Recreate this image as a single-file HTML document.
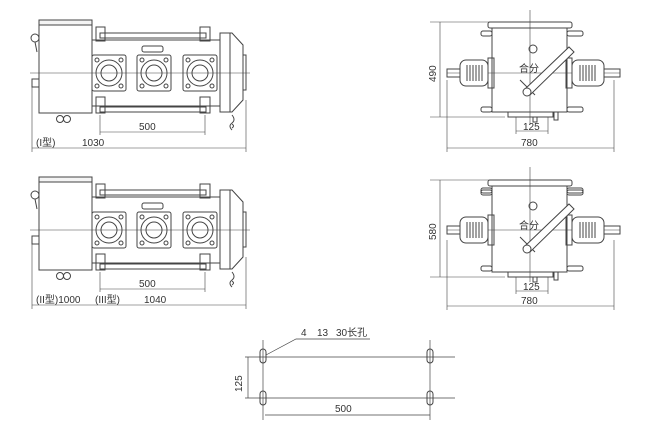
<!DOCTYPE html>
<html><head><meta charset="utf-8"><style>
html,body{margin:0;padding:0;background:#fff;}
svg{display:block;}
text{font-family:"Liberation Sans","Noto Sans CJK SC",sans-serif;font-size:10px;fill:#333;}
</style></head><body>
<svg width="650" height="436" viewBox="0 0 650 436" xmlns="http://www.w3.org/2000/svg">
<defs>
<g id="side" fill="none" stroke="#444" stroke-width="1">
  <rect x="39" y="20" width="53" height="5" fill="#f4f4f4"/>
  <rect x="39" y="25" width="53" height="88"/>
  <circle cx="35" cy="38" r="4"/><line x1="35" y1="42" x2="37" y2="52"/>
  <rect x="32" y="79" width="7" height="8"/>
  <circle cx="60" cy="119" r="3.5"/><circle cx="67" cy="119" r="3.5"/>
  <line x1="92" y1="40" x2="220" y2="40"/><line x1="92" y1="106" x2="220" y2="106"/>
  <rect x="96" y="27" width="9" height="14"/><rect x="200" y="27" width="10" height="14"/>
  <rect x="100" y="33" width="106" height="5"/>
  <rect x="96" y="97" width="9" height="16"/><rect x="200" y="97" width="10" height="16"/>
  <rect x="100" y="107" width="106" height="5"/>
  <rect x="142" y="46" width="21" height="6" rx="2"/>
  <g id="fl"><rect x="92" y="55" width="34" height="36" rx="2"/><circle cx="109" cy="73" r="13"/><circle cx="109" cy="73" r="8"/>
  <circle cx="97" cy="60" r="2"/><circle cx="121" cy="60" r="2"/><circle cx="97" cy="86" r="2"/><circle cx="121" cy="86" r="2"/></g>
  <use href="#fl" x="45"/><use href="#fl" x="91"/>
  <path d="M220 33 L232 33 L243 45 L243 100 L232 112 L220 112 Z"/>
  <line x1="230" y1="33" x2="230" y2="112"/>
  <rect x="243" y="55" width="3" height="35"/>
  <path d="M232 115 q4 5 0 8 q-4 3 0 7 M232 124 q3 2 0 4"/>
  <line x1="30" y1="73" x2="250" y2="73" stroke-width="0.6"/>
  <line x1="100" y1="115" x2="100" y2="135" stroke-width="0.6"/><line x1="205" y1="115" x2="205" y2="135" stroke-width="0.6"/>
  <line x1="100" y1="132" x2="205" y2="132" stroke-width="0.6"/>
  <line x1="32" y1="85" x2="32" y2="152" stroke-width="0.6"/><line x1="246" y1="100" x2="246" y2="152" stroke-width="0.6"/>
  <line x1="32" y1="148" x2="246" y2="148" stroke-width="0.6"/>
</g>
<g id="front" fill="none" stroke="#444" stroke-width="1">
  <rect x="481" y="31" width="11" height="5" rx="2"/><rect x="567" y="31" width="16" height="5" rx="2"/>
  <line x1="447" y1="73" x2="620" y2="73" stroke-width="0.6"/>
  <line x1="530" y1="10" x2="530" y2="125" stroke-width="0.6"/>
  <rect x="447" y="69" width="15" height="8"/><rect x="604" y="69" width="16" height="8"/>
  <rect x="460" y="60" width="28" height="26" rx="6" fill="#fff"/><rect x="572" y="60" width="32" height="26" rx="6" fill="#fff"/>
  <path d="M467 65v16M470 65v16M473 65v16M476 65v16M479 65v16M482 65v16M580 65v16M583 65v16M586 65v16M589 65v16M592 65v16M595 65v16"/>
  <rect x="488" y="58" width="6" height="30"/><rect x="566" y="58" width="6" height="30"/>
  <line x1="520" y1="80" x2="535" y2="95"/>
  <path d="M524 90 L569 47 L574 52 L530 95 Z" fill="#fff"/><circle cx="527" cy="92" r="4" fill="#fff"/>
  <circle cx="533" cy="49" r="4"/>
</g>
</defs>

<use href="#side"/>
<text x="36" y="146" font-size="9">(I型)</text>
<text x="82" y="146">1030</text>
<text x="139" y="130">500</text>

<use href="#side" y="157"/>
<text x="36" y="303" font-size="9">(II型)1000</text>
<text x="95" y="303" font-size="9">(III型)</text>
<text x="144" y="303">1040</text>
<text x="139" y="287">500</text>

<!-- right top -->
<g fill="none" stroke="#444" stroke-width="1">
  <rect x="488" y="22" width="84" height="6" rx="2"/>
  <rect x="492" y="28" width="75" height="84"/>
  <rect x="481" y="107" width="11" height="5" rx="2"/><rect x="567" y="107" width="16" height="5" rx="2"/>
  <rect x="508" y="112" width="45" height="5"/><rect x="533" y="117" width="4" height="5"/><rect x="554" y="112" width="4" height="8"/>
  <line x1="430" y1="22" x2="490" y2="22" stroke-width="0.6"/><line x1="430" y1="117" x2="505" y2="117" stroke-width="0.6"/>
  <line x1="440" y1="22" x2="440" y2="117" stroke-width="0.6"/>
  <line x1="516" y1="117" x2="516" y2="134" stroke-width="0.6"/><line x1="548" y1="117" x2="548" y2="134" stroke-width="0.6"/>
  <line x1="516" y1="131" x2="548" y2="131" stroke-width="0.6"/>
  <line x1="447" y1="80" x2="447" y2="152" stroke-width="0.6"/><line x1="614" y1="80" x2="614" y2="152" stroke-width="0.6"/>
  <line x1="447" y1="148" x2="614" y2="148" stroke-width="0.6"/>
</g>
<use href="#front"/>
<text x="519" y="72" font-size="9">合分</text>
<text transform="translate(436,82) rotate(-90)">490</text>
<text x="523" y="130">125</text>
<text x="521" y="146">780</text>

<!-- right bottom -->
<g fill="none" stroke="#444" stroke-width="1">
  <rect x="488" y="180" width="84" height="6" rx="2"/>
  <rect x="492" y="186" width="75" height="86"/>
  <rect x="481" y="190" width="11" height="5" rx="2"/><rect x="567" y="190" width="16" height="5" rx="2"/>
  <rect x="481" y="266" width="11" height="5" rx="2"/><rect x="567" y="266" width="16" height="5" rx="2"/>
  <rect x="508" y="272" width="45" height="5"/><rect x="533" y="277" width="4" height="5"/><rect x="554" y="272" width="4" height="8"/>
  <line x1="430" y1="180" x2="490" y2="180" stroke-width="0.6"/><line x1="430" y1="277" x2="505" y2="277" stroke-width="0.6"/>
  <line x1="440" y1="180" x2="440" y2="277" stroke-width="0.6"/>
  <line x1="516" y1="277" x2="516" y2="294" stroke-width="0.6"/><line x1="548" y1="277" x2="548" y2="294" stroke-width="0.6"/>
  <line x1="516" y1="291" x2="548" y2="291" stroke-width="0.6"/>
  <line x1="447" y1="240" x2="447" y2="310" stroke-width="0.6"/><line x1="614" y1="240" x2="614" y2="310" stroke-width="0.6"/>
  <line x1="447" y1="306" x2="614" y2="306" stroke-width="0.6"/>
</g>
<use href="#front" y="157"/>
<text x="519" y="229" font-size="9">合分</text>
<text transform="translate(436,240) rotate(-90)">580</text>
<text x="523" y="290">125</text>
<text x="521" y="304">780</text>

<!-- bottom plan -->
<g fill="none" stroke="#444" stroke-width="0.7">
  <line x1="245" y1="357" x2="455" y2="357"/><line x1="245" y1="398" x2="455" y2="398"/>
  <line x1="248" y1="357" x2="248" y2="398"/>
  <line x1="263" y1="340" x2="263" y2="420"/><line x1="430" y1="340" x2="430" y2="420"/>
  <line x1="265" y1="415" x2="430" y2="415"/>
  <path d="M266 355 L296 339 L370 339"/>
  <g stroke-width="1"><rect x="260" y="349" width="6" height="14" rx="3"/><rect x="260" y="391" width="6" height="14" rx="3"/>
  <rect x="427" y="349" width="6" height="14" rx="3"/><rect x="427" y="391" width="6" height="14" rx="3"/></g>
</g>
<text x="301" y="336">4</text><text x="317" y="336">13</text><text x="336" y="336">30长孔</text>
<text transform="translate(242,392) rotate(-90)">125</text>
<text x="335" y="412">500</text>
</svg>
</body></html>
